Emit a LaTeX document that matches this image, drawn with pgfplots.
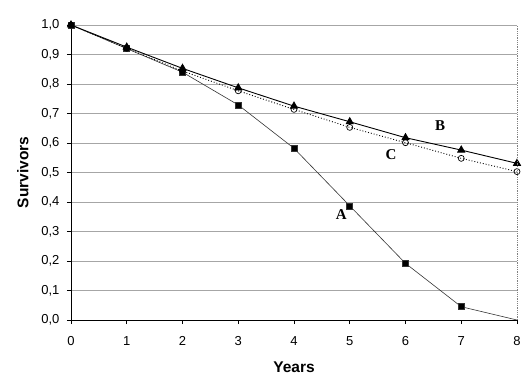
\documentclass[border=0pt]{standalone}
\usepackage{fontspec}
\setmainfont{Liberation Sans}
\newfontfamily\serifb{Liberation Serif}
\usepackage{pgfplots}
\pgfplotsset{compat=1.18}
\begin{document}
\begin{tikzpicture}
\begin{axis}[
  scale only axis,
  width=446pt, height=295pt,
  xmin=0, xmax=8, ymin=0, ymax=1,
  xtick={0,1,...,8},
  ytick={0,0.1,...,1.0},
  axis x line*=bottom, axis y line*=left,
  axis line style={-, black, line width=0.8pt},
  tick align=outside,
  major tick length=4pt,
  tick style={black, line width=0.6pt},
  ymajorgrids,
  major grid style={gray!70, line width=0.7pt},
  tick label style={font=\fontsize{13}{15}\selectfont},
  /pgf/number format/assume math mode=true,
  yticklabel style={/pgf/number format/use comma, /pgf/number format/fixed, /pgf/number format/fixed zerofill, /pgf/number format/precision=1, xshift=-4pt},
  xticklabel style={yshift=-9pt},
  xlabel={\bfseries Years},
  ylabel={\bfseries Survivors},
  label style={font=\fontsize{15.5}{17}\selectfont},
  xlabel style={yshift=-9pt},
  ylabel style={yshift=6pt},
  clip=false,
  after end axis/.code={
    \draw[gray, densely dotted, line width=0.8pt] (rel axis cs:1,0) -- (rel axis cs:1,1);
  },
]
% A
\addplot[black!80, line width=0.6pt, mark=square*, mark size=3pt, mark options={solid, fill=black}, mark indices={1,...,8}] coordinates {
(0,1.0) (1,0.92) (2,0.84) (3,0.729) (4,0.582) (5,0.387) (6,0.192) (7,0.045) (8,0.0)};
% B
\addplot[black, line width=0.9pt, mark=triangle*, mark size=4pt, mark options={solid, fill=black}] coordinates {
(0,1.0) (1,0.925) (2,0.853) (3,0.787) (4,0.725) (5,0.672) (6,0.618) (7,0.576) (8,0.531)};
% C
\addplot[black, line width=0.9pt, dotted, mark=o, mark size=3pt, mark options={solid, fill=white, line width=0.7pt}] coordinates {
(0,1.0) (1,0.921) (2,0.844) (3,0.777) (4,0.714) (5,0.653) (6,0.601) (7,0.548) (8,0.503)};
\node[font=\serifb\bfseries\fontsize{15}{17}\selectfont] at (axis cs:4.85,0.356) {A};
\node[font=\serifb\bfseries\fontsize{15}{17}\selectfont] at (axis cs:6.62,0.66) {B};
\node[font=\serifb\bfseries\fontsize{15}{17}\selectfont] at (axis cs:5.74,0.56) {C};
\end{axis}
\path ([shift={(-71pt,-68pt)}]current axis.south west) rectangle ([shift={(10pt,25pt)}]current axis.north east);
\end{tikzpicture}
\end{document}
